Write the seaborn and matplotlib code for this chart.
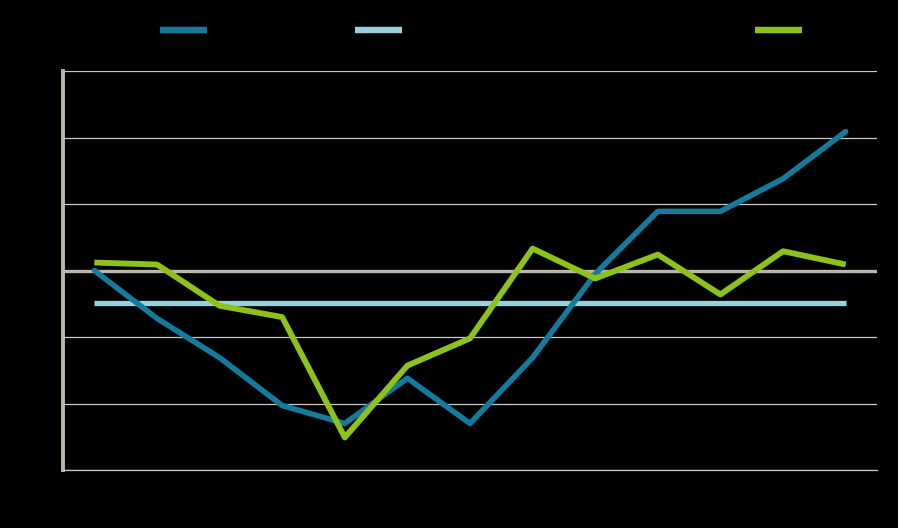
import numpy as np
import pandas as pd
import matplotlib
matplotlib.use('Agg')
import matplotlib.pyplot as plt
import seaborn as sns

# ---------------------------------------------------------------------------
# Data (y in grid units, zero line at 0)
# ---------------------------------------------------------------------------
periods = list(range(13))
series_a = [0.00, -0.72, -1.31, -2.03, -2.30, -1.62, -2.30, -1.31, -0.05, 0.89, 0.89, 1.38, 2.09]
series_avg = [-0.49] * 13
series_b = [0.12, 0.09, -0.53, -0.70, -2.51, -1.43, -1.02, 0.33, -0.12, 0.24, -0.36, 0.29, 0.09]
y_ticks = [-3, -2, -1, 0, 1, 2, 3]

BLUE = '#147b9c'
LIGHT = '#9dcfdd'
GREEN = '#8cc21a'
TAN = '#bdb5a8'
GRID = '#c8c8c8'

df = pd.DataFrame({'period': periods, 'a': series_a, 'avg': series_avg, 'b': series_b})

sns.set_style('white')
fig = plt.figure(figsize=(8.98, 5.28), dpi=100, facecolor='black')
ax = fig.add_axes([0.0702, 0.1098, 0.9064, 0.7557])
ax.set_facecolor('black')

for yv in y_ticks:
    if yv == 0:
        ax.axhline(yv, color=TAN, lw=2.4, zorder=1)
    else:
        ax.axhline(yv, color=GRID, lw=0.9, zorder=1)

sns.lineplot(data=df, x='period', y='avg', color=LIGHT, lw=3.8, ax=ax, zorder=2,
             solid_capstyle='butt')
sns.lineplot(data=df, x='period', y='a', color=BLUE, lw=4.0, ax=ax, zorder=3,
             solid_capstyle='round')
sns.lineplot(data=df, x='period', y='b', color=GREEN, lw=4.2, ax=ax, zorder=4,
             solid_capstyle='butt')

ax.set_xlim(-0.5, 12.5)
ax.set_ylim(-3, 3)
ax.set_yticks(y_ticks)
ax.set_xticks(periods)
ax.set_xlabel('')
ax.set_ylabel('')
ax.tick_params(axis='y', colors=TAN, length=4, width=2.8, direction='out', labelcolor='black')
ax.tick_params(axis='x', length=0, labelcolor='black')

for side in ['top', 'right']:
    ax.spines[side].set_visible(False)
ax.spines['left'].set_color(TAN)
ax.spines['left'].set_linewidth(2.8)
ax.spines['bottom'].set_color(GRID)
ax.spines['bottom'].set_linewidth(0.9)

# legend handles sit on top of the chart, labels in black as in the reference
for color, xpos in [(BLUE, 0.1783), (LIGHT, 0.3953), (GREEN, 0.8408)]:
    h = matplotlib.lines.Line2D([], [], color=color, lw=4.5, solid_capstyle='butt')
    leg = fig.legend([h], [''], loc='center left', bbox_to_anchor=(xpos, 0.941),
                     frameon=False, handlelength=3.4, borderpad=0, borderaxespad=0,
                     handletextpad=0.3, labelcolor='black')
    fig.add_artist(leg)

fig.savefig('out.png', dpi=100, facecolor='black')
